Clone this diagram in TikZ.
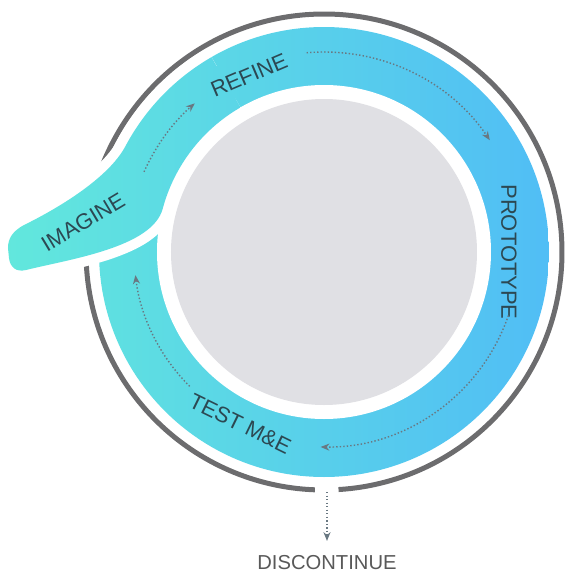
\documentclass[tikz,border=0pt]{standalone}
\usepackage{fontspec}
\setmainfont{Liberation Sans}
\usetikzlibrary{arrows.meta,positioning}

\definecolor{diskgray}{RGB}{224,224,228}
\definecolor{ringgray}{RGB}{108,108,110}
\definecolor{bandteal}{RGB}{98,232,220}
\definecolor{bandblue}{RGB}{80,188,246}
\definecolor{labelink}{RGB}{44,72,82}
\definecolor{dotgray}{RGB}{105,120,130}

\newcommand*{\rdisk}{153}
\newcommand*{\rinner}{167}
\newcommand*{\router}{225}
\newcommand*{\rring}{238}
\newcommand*{\tailpath}{(120:\router) arc[start angle=120, end angle=152, radius=\router]
	.. controls (-215.1,74.7) and (-264,44.6) .. (-300,27)
	.. controls (-311,21) and (-316,14) .. (-316,4)
	-- (-315,-6)
	.. controls (-314,-15) and (-308,-20.5) .. (-298,-18)
	.. controls (-254.4,-7.2) and (-171.7,4.6) .. (165:\rinner)
	arc[start angle=165, end angle=120, radius=\rinner]}

\begin{document}
\begin{tikzpicture}
[
	x=0.02cm,
	y=0.02cm,
	stage/.style={text=labelink, font=\fontsize{12.5}{15}\selectfont, inner sep=0pt},
	flow/.style={dotgray, line width=0.8pt, dash pattern=on 0.8pt off 1.2pt, -{Stealth[length=5pt,width=4pt]}},
	ringline/.style={ringgray, line width=0.1cm},
	bandshade/.style={left color=bandteal, right color=bandblue}
]

	\useasboundingbox (-324,-327) rectangle (244,252);

	% band and centre disk
	\begin{scope}
		\clip (0,0) circle (\router);
		\shade[bandshade] (-324,-327) rectangle (244,252);
	\end{scope}
	\fill[white] (0,0) circle (\rinner);
	\fill[diskgray] (0,0) circle (\rdisk);

	% outer ring, open at the bottom
	\draw[ringline] (273.5:\rring) arc[start angle=273.5, end angle=627.8, radius=\rring];

	% imagine tail
	\draw[white, line width=0.4cm] \tailpath;
	\begin{scope}
		\clip \tailpath -- cycle;
		\shade[bandshade] (-324,-327) rectangle (244,252);
	\end{scope}

	% stages
	\node[stage, rotate=31] (imagine) at (-241,30) {IMAGINE};
	\node[stage, rotate=23] (refine) at (113:192) {REFINE};
	\node[stage, rotate=-90] (prototype) at (0:185) {PROTOTYPE};
	\node[stage, rotate=-26] (test) at (244:191) {TEST M\&E};

	% dotted steps round the cycle
	\coordinate (imaginedots) at (156:197);
	\coordinate (refinedots) at (95:200);
	\coordinate (prototypedots) at (341:195);
	\coordinate (testdots) at (225:190);
	\draw[flow] (imaginedots) arc[start angle=156, end angle=131, radius=197];
	\draw[flow] (refinedots) arc[start angle=95, end angle=34, radius=200];
	\draw[flow] (prototypedots) arc[start angle=341, end angle=269, radius=195];
	\draw[flow] (testdots) arc[start angle=225, end angle=187, radius=190];

	% way out
	\coordinate (exit) at (3,-240);
	\node[below=1.26cm of exit, text=black!65, font=\fontsize{11.5}{14}\selectfont, inner sep=0pt] (discontinue) {DISCONTINUE};
	\draw[flow, shorten >=8pt] (exit) -- (discontinue);

\end{tikzpicture}
\end{document}
